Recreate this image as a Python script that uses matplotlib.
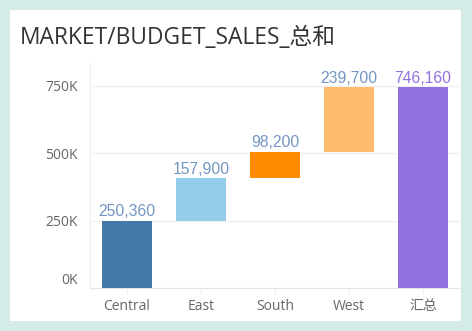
import matplotlib
matplotlib.use("Agg")
import matplotlib.pyplot as plt
from matplotlib.patches import Rectangle
from matplotlib.transforms import ScaledTranslation

categories = ["Central", "East", "South", "West", "汇总"]
increments = [250360, 157900, 98200, 239700]
total_value = 746160
bar_colors = ["#4479aa", "#94cdea", "#ff8c00", "#ffbb6d", "#9370e0"]
label_colors = ["#7396c4", "#7396c4", "#7396c4", "#7396c4", "#9370e0"]
ytick_values = [0, 250000, 500000, 750000]
ytick_labels = ["0K", "250K", "500K", "750K"]
title = "MARKET/BUDGET_SALES_总和"

W, H = 472, 331
fig = plt.figure(figsize=(W / 100, H / 100), dpi=100)
fig.patch.set_facecolor("#d4ebe8")

# white panel
panel = Rectangle((10 / W, 1 - 321 / H), 451 / W, 311 / H, transform=fig.transFigure,
                  facecolor="white", edgecolor="none", zorder=-5)
fig.patches.append(panel)

fig.text(20 / W, 1 - 38 / H, title, fontsize=16.4, color="#333333",
         family=["Open Sans", "Noto Sans CJK SC"], va="center", ha="left")

left, right, top, bottom = 90, 460, 63, 288
ax = fig.add_axes([left / W, 1 - bottom / H, (right - left) / W, (bottom - top) / H])
ax.set_zorder(2)
ax.set_facecolor("none")

bottoms = []
heights = []
run = 0
for v in increments:
    bottoms.append(run)
    heights.append(v)
    run += v
bottoms.append(0)
heights.append(total_value)

x = list(range(len(categories)))
ax.bar(x, heights, bottom=bottoms, width=0.67, color=bar_colors, zorder=3)

for i in x:
    val = heights[i]
    ax.text(i, bottoms[i] + heights[i] + 5000, f"{val:,}", ha="center", va="bottom",
            fontsize=11.3, color=label_colors[i], family="Liberation Sans", zorder=4)

ax.set_xlim(-0.5, 4.5)
ax.set_ylim(0, 835000)
ax.set_yticks(ytick_values)
ax.set_yticklabels(ytick_labels)
ax.grid(axis="y", color="#f0f0f0", linewidth=1, zorder=0)
ax.set_axisbelow(True)
ax.set_xticks(x)
ax.set_xticklabels(categories)

for lab in ax.get_xticklabels():
    lab.set_family(["Open Sans", "Noto Sans CJK SC"])
    lab.set_fontsize(10)
    lab.set_color("#666666")
for lab in ax.get_yticklabels():
    lab.set_family(["Open Sans", "Noto Sans CJK SC"])
    lab.set_fontsize(10)
    lab.set_color("#666666")
ax.tick_params(axis="y", length=0, pad=9)
ax.tick_params(axis="x", length=4, color="#eeeeee", pad=4)

for s in ["top", "right"]:
    ax.spines[s].set_visible(False)
ax.spines["left"].set_color("#eeeeee")
ax.spines["bottom"].set_color("#e6e6e6")

# nudge 0K label upward like the reference
t0 = ax.get_yticklabels()[0]
t0.set_transform(t0.get_transform() + ScaledTranslation(0, 10 / 100, fig.dpi_scale_trans))

fig.savefig("out.png", dpi=100, facecolor=fig.get_facecolor())
